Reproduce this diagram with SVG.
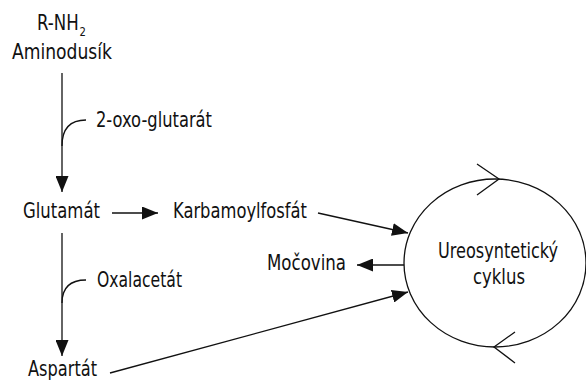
<svg xmlns="http://www.w3.org/2000/svg" width="586" height="382" viewBox="0 0 586 382">
<style>
text { font-family: "Liberation Sans Narrow", "DejaVu Sans Condensed", sans-serif; font-size: 21.5px; fill: #111; }
.sub { font-size: 13px; }
.ln { fill: none; stroke: #111; stroke-width: 1.3; }
.arr { marker-end: url(#ah); }
</style>
<defs>
<marker id="ah" markerUnits="userSpaceOnUse" markerWidth="17" markerHeight="13" refX="16" refY="6.5" orient="auto" viewBox="0 0 17 13">
<path d="M0,0 L16,6.5 L0,13 z" fill="#111"/>
</marker>
</defs>
<rect width="586" height="382" fill="#fff"/>
<g id="connectors">
<path class="ln arr" d="M62,73 L62,192"/>
<path class="ln" d="M62,146 Q62,120 86,120"/>
<path class="ln arr" d="M62,233 L62,356"/>
<path class="ln" d="M62,303 Q62,280 86,280"/>
<path class="ln arr" d="M112,213 L158,213"/>
<path class="ln arr" d="M318,213 L408,233"/>
<path class="ln arr" d="M404,265 L357,265"/>
<path class="ln arr" d="M110,373 L408,292"/>
</g>
<g id="n-aminodusik">
<text transform="translate(37,30) scale(0.86,1)">R-NH<tspan class="sub" dx="1" dy="6">2</tspan></text>
<text x="12" y="59" textLength="100" lengthAdjust="spacingAndGlyphs">Aminodusík</text>
</g>
<g id="n-oxoglutarat">
<text x="96" y="127" textLength="116" lengthAdjust="spacingAndGlyphs">2-oxo-glutarát</text>
</g>
<g id="n-glutamat">
<text x="23" y="218" textLength="77" lengthAdjust="spacingAndGlyphs">Glutamát</text>
</g>
<g id="n-karbamoylfosfat">
<text x="173" y="218" textLength="134" lengthAdjust="spacingAndGlyphs">Karbamoylfosfát</text>
</g>
<g id="n-mocovina">
<text x="267" y="270" textLength="79" lengthAdjust="spacingAndGlyphs">Močovina</text>
</g>
<g id="n-oxalacetat">
<text x="97" y="287" textLength="85" lengthAdjust="spacingAndGlyphs">Oxalacetát</text>
</g>
<g id="n-aspartat">
<text x="28" y="376" textLength="69" lengthAdjust="spacingAndGlyphs">Aspartát</text>
</g>
<g id="n-cyklus">
<ellipse class="ln" cx="495" cy="263" rx="91" ry="84"/>
<path class="ln" d="M477,164 L499,179 L477,195"/>
<path class="ln" d="M515,332 L494,347 L515,363"/>
<text x="438" y="258" textLength="120" lengthAdjust="spacingAndGlyphs">Ureosyntetický</text>
<text x="473" y="284" textLength="52" lengthAdjust="spacingAndGlyphs">cyklus</text>
</g>
</svg>
